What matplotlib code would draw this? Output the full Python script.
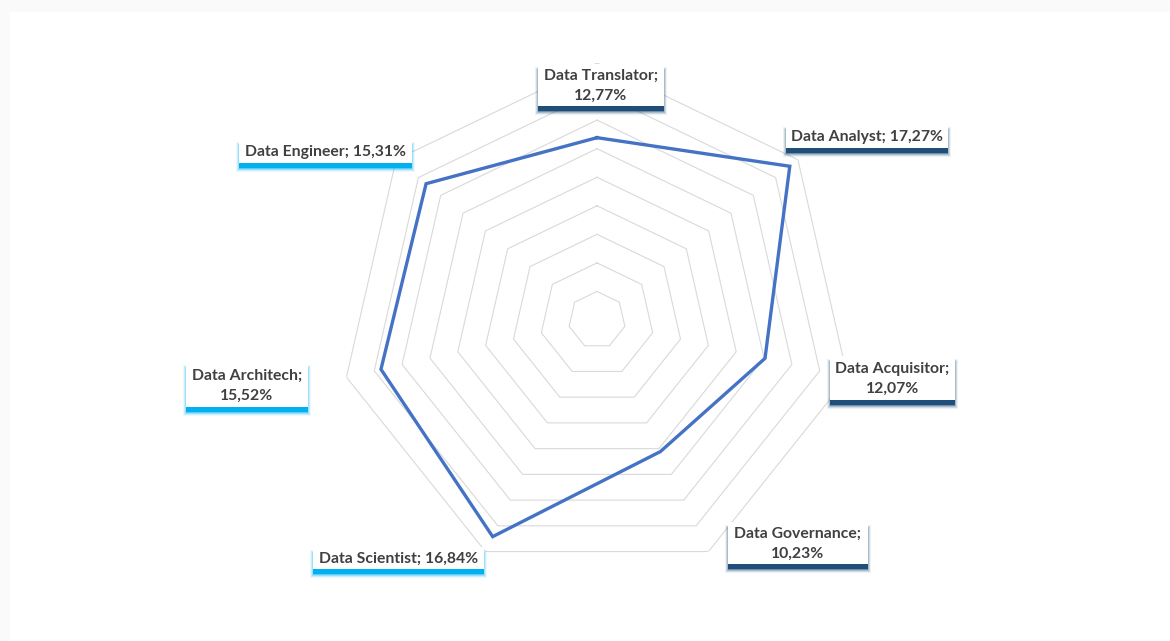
import numpy as np
import matplotlib.pyplot as plt
from matplotlib.patches import Rectangle

# Data
roles = ['Data Translator', 'Data Analyst', 'Data Acquisitor', 'Data Governance',
         'Data Scientist', 'Data Architech', 'Data Engineer']
shares = [12.77, 17.27, 12.07, 10.23, 16.84, 15.52, 15.31]
ring_levels = [2, 4, 6, 8, 10, 12, 14, 16, 18]

W, H = 1170, 641
fig = plt.figure(figsize=(W / 100, H / 100), dpi=100)
fig.patch.set_facecolor('#fafafa')


def fx(x):
    return x / W


def fy(y):
    return 1 - y / H


# white card
fig.add_artist(Rectangle((fx(10), 0), 1 - fx(10), fy(12), transform=fig.transFigure,
                         facecolor='white', edgecolor='none', zorder=0))

# Radar axes: centre (597, 320) px, outer ring radius 257 px
cx, cy, R = 597, 320, 257
ax = fig.add_axes([fx(cx - R), fy(cy + R), 2 * R / W, 2 * R / H], projection='polar')
ax.set_theta_offset(np.pi / 2)
ax.set_theta_direction(-1)
ax.set_ylim(0, 18)
ax.set_facecolor('none')
ax.grid(False)
ax.spines['polar'].set_visible(False)
ax.set_xticks([])
ax.set_yticks([])

n = len(roles)
theta = np.linspace(0, 2 * np.pi, n, endpoint=False)
theta_c = np.append(theta, theta[0])

for lvl in ring_levels:
    ax.plot(theta_c, [lvl] * (n + 1), color='#d9d9d9', lw=0.8, zorder=1)

vals = shares + [shares[0]]
ax.plot(theta_c, vals, color='#4472c4', lw=2.4, zorder=3, solid_joinstyle='miter')

# Labels: box (left, top, right, bottom) in pixels, two-line flag, shadow colour
navy = '#1f4e79'
cyan = '#00b0f0'
label_boxes = {
    'Data Translator': ((538, 64, 664, 106), True, navy),
    'Data Analyst': ((786, 124, 948, 148), False, navy),
    'Data Acquisitor': ((830, 356, 955, 400), True, navy),
    'Data Governance': ((728, 522, 868, 564), True, navy),
    'Data Scientist': ((313, 547, 484, 569), False, cyan),
    'Data Architech': ((186, 362, 308, 407), True, cyan),
    'Data Engineer': ((239, 139, 412, 163), False, cyan),
}

for role, val in zip(roles, shares):
    (l, t, r, b), two_line, sc = label_boxes[role]
    pct = f'{val:.2f}'.replace('.', ',') + '%'
    txt = f'{role};\n{pct}' if two_line else f'{role}; {pct}'
    # soft shadow under the box
    for i, a in enumerate([0.08, 0.14, 0.22, 0.4]):
        e = 3 - i
        fig.add_artist(Rectangle((fx(l - e), fy(b + 6 + e)), (r - l + 2 * e) / W,
                                 (b - t + 2 * e) / H, transform=fig.transFigure,
                                 facecolor=sc, edgecolor='none', alpha=a, zorder=4))
    fig.add_artist(Rectangle((fx(l), fy(b + 5)), (r - l) / W, (b - t) / H,
                             transform=fig.transFigure, facecolor=sc,
                             edgecolor='none', zorder=4))
    fig.add_artist(Rectangle((fx(l), fy(b)), (r - l) / W, (b - t) / H,
                             transform=fig.transFigure, facecolor='white',
                             edgecolor='none', zorder=5))
    fig.text(fx((l + r) / 2), fy((t + b) / 2 + 1), txt, ha='center', va='center',
             fontsize=11.3, fontweight='bold', color='#404040', family='Lato',
             linespacing=1.55, zorder=6)

fig.savefig('out.png', dpi=100, facecolor=fig.get_facecolor())
